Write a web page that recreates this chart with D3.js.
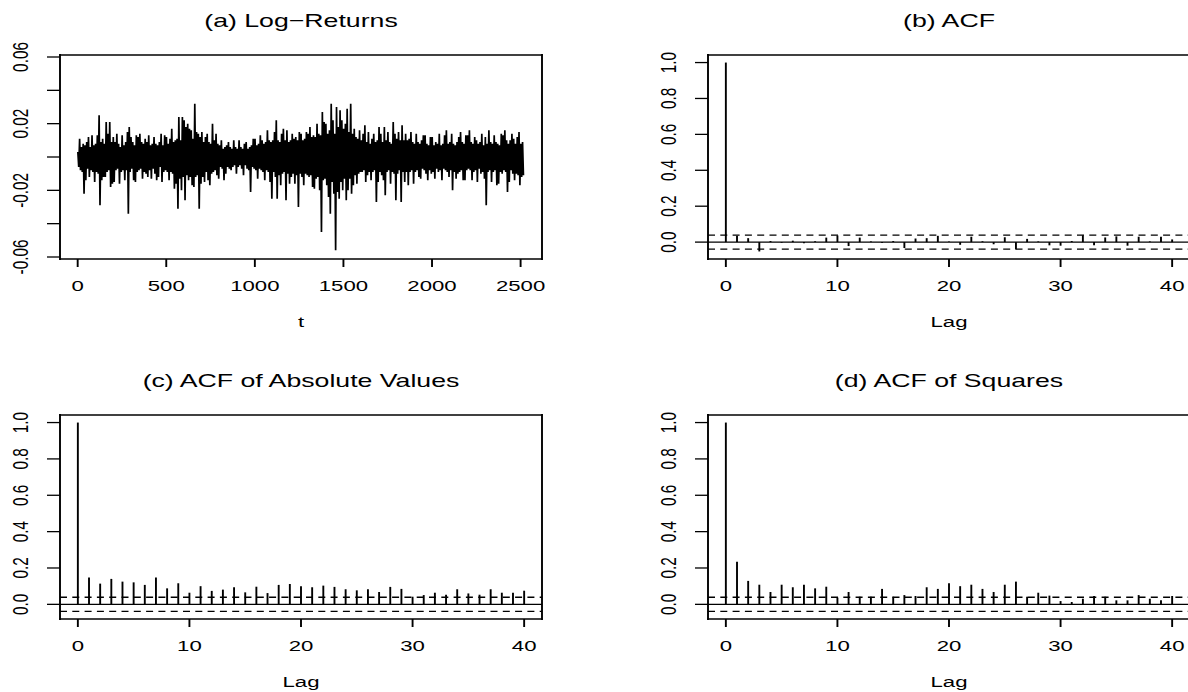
<!DOCTYPE html>
<html>
<head>
<meta charset="utf-8">
<script src="https://cdn.jsdelivr.net/npm/d3@7"></script>
<style>
  body { margin: 0; background: #fff; }
  text { font-family: "Liberation Sans", Arial, sans-serif; fill: #000; }
</style>
</head>
<body>
<script>
// ---- data ----
var nObs = 2520;          // length of the return series
var tStep = 5;            // one stored value per 5 trading days
// log-returns in thousandths (per mille), t = 1, 6, 11, ...
var logReturnsPermil = [
  3, -6, 11, -8, 6, -9, 8, -22, 7, -14, 9, -7, 12, -12, 6, -8, 13, -9, 7, -15,
  8, -9, 13, -10, 25, -29, 9, -14, 11, -12, 8, -12, 21, -9, 14, -8, 21, -18, 9, -16,
  12, -15, 9, -8, 14, -7, 8, -16, 6, -9, 13, -8, 7, -14, 9, -8, 15, -34, 18, -9,
  12, -7, 9, -14, 7, -15, 13, -9, 12, -8, 14, -7, 9, -13, 8, -9, 11, -10, 9, -12,
  13, -8, 7, -13, 8, -7, 12, -10, 8, -14, 7, -12, 9, -6, 14, -15, 7, -9, 13, -8,
  12, -9, 8, -14, 11, -9, 17, -10, 9, -19, 10, -16, 11, -31, 24, -13, 10, -20, 24, -12,
  22, -26, 18, -11, 20, -14, 17, -12, 16, -17, 11, -18, 32, -12, 15, -11, 14, -31, 12, -16,
  15, -12, 9, -15, 12, -9, 14, -14, 9, -17, 8, -10, 20, -9, 10, -8, 14, -11, 8, -13,
  7, -6, 10, -7, 5, -14, 6, -10, 7, -6, 9, -7, 6, -8, 5, -6, 10, -5, 6, -10,
  5, -6, 10, -5, 6, -7, 5, -11, 8, -5, 9, -7, 5, -8, 6, -21, 7, -6, 11, -7,
  11, -8, 7, -13, 8, -7, 13, -8, 10, -9, 8, -14, 9, -8, 16, -9, 10, -15, 9, -25,
  10, -9, 15, -12, 22, -25, 10, -11, 9, -17, 14, -10, 17, -9, 10, -26, 16, -10, 9, -16,
  10, -12, 14, -10, 11, -16, 12, -11, 10, -30, 15, -10, 14, -12, 10, -17, 11, -10, 15, -11,
  14, -12, 18, -11, 12, -18, 13, -19, 12, -13, 20, -12, 14, -20, 13, -45, 27, -14, 21, -13,
  20, -17, 14, -24, 16, -34, 32, -15, 22, -22, 14, -56, 30, -21, 18, -25, 28, -15, 22, -20,
  17, -13, 20, -26, 29, -20, 15, -13, 32, -22, 14, -17, 17, -11, 12, -16, 11, -10, 16, -9,
  10, -9, 14, -8, 19, -15, 9, -11, 15, -9, 8, -14, 11, -9, 14, -8, 9, -27, 10, -15,
  18, -9, 14, -11, 9, -14, 18, -23, 10, -9, 15, -8, 9, -16, 8, -9, 21, -10, 14, -26,
  11, -10, 15, -8, 10, -27, 19, -9, 10, -15, 14, -9, 10, -17, 11, -9, 15, -8, 9, -16,
  8, -9, 14, -8, 9, -12, 8, -13, 10, -7, 13, -8, 13, -10, 8, -14, 7, -8, 12, -10,
  12, -9, 7, -13, 9, -7, 8, -9, 14, -8, 7, -14, 8, -7, 13, -8, 16, -9, 8, -12,
  9, -8, 14, -20, 8, -9, 7, -13, 9, -10, 12, -9, 15, -8, 9, -14, 8, -14, 13, -8,
  13, -7, 16, -8, 9, -14, 8, -9, 12, -8, 10, -15, 8, -7, 9, -10, 14, -9, 7, -13,
  12, -29, 8, -9, 16, -8, 9, -15, 8, -9, 13, -8, 9, -17, 8, -16, 7, -9, 14, -10,
  13, -8, 16, -9, 10, -21, 8, -15, 10, -8, 14, -10, 11, -14, 8, -10, 12, -11, 15, -17,
  8, -12, 9, -11
];

var lags = d3.range(0, 41);
var acfReturns = [1, 0.035, 0.022, -0.052, 0.006, -0.004, 0.008, -0.006, 0.005, 0.025,
  0.037, -0.022, 0.025, 0.004, -0.005, 0.006, -0.033, 0.02, 0.022, 0.035,
  0.003, -0.015, 0.03, 0.005, -0.012, 0.027, -0.04, 0.018, 0.004, -0.018,
  -0.02, 0.006, 0.038, -0.018, 0.026, 0.032, -0.02, 0.03, 0.004, 0.03, 0.015];
var acfAbs = [1, 0.147, 0.114, 0.14, 0.125, 0.121, 0.107, 0.147, 0.088, 0.116,
  0.064, 0.1, 0.074, 0.081, 0.094, 0.066, 0.097, 0.062, 0.107, 0.112,
  0.1, 0.094, 0.103, 0.096, 0.083, 0.077, 0.083, 0.068, 0.096, 0.085,
  0.042, 0.051, 0.064, 0.053, 0.083, 0.06, 0.053, 0.083, 0.064, 0.064, 0.075];
var acfSquares = [1, 0.235, 0.129, 0.108, 0.068, 0.108, 0.094, 0.108, 0.088, 0.097,
  0.037, 0.068, 0.042, 0.042, 0.085, 0.042, 0.051, 0.046, 0.094, 0.085,
  0.116, 0.1, 0.108, 0.085, 0.068, 0.108, 0.125, 0.042, 0.064, 0.048,
  0.018, 0.013, 0.031, 0.046, 0.042, 0.022, 0.022, 0.051, 0.031, 0.022, 0.046];

var xTicksTime = [0, 500, 1000, 1500, 2000, 2500];
var yTicksReturns = [-0.06, -0.04, -0.02, 0, 0.02, 0.04, 0.06];
var yLabelsReturns = [-0.06, -0.02, 0.02, 0.06];
var xTicksLag = [0, 10, 20, 30, 40];
var yTicksAcf = [0, 0.2, 0.4, 0.6, 0.8, 1.0];
var titles = ["(a) Log\u2212Returns", "(b) ACF", "(c) ACF of Absolute Values", "(d) ACF of Squares"];
var xLabels = ["t", "Lag", "Lag", "Lag"];

// ---- layout ----
var W = 1188, H = 692;
var boxW = 482, boxH = 204;
var stretch = 1.45;   // glyphs in the picture are wider than tall
var fontSize = 15.3, titleSize = 18.4;
var hLine = 1.3, vLine = 1.9;

var fmtHyphen = d3.formatLocale({ decimal: ".", thousands: "", grouping: [3], currency: ["", ""], minus: "-" });

var svg = d3.select("body").append("svg")
  .attr("width", W).attr("height", H)
  .style("display", "block");

svg.append("rect").attr("width", W).attr("height", H).attr("fill", "#fff");

// R style 4% padding around the data range
function padded(lo, hi) {
  var d = (hi - lo) * 0.04;
  return [lo - d, hi + d];
}

function frame(id, left, top, x, y, xTicks, yTicks, yLabels, fmtX, fmtY, title, xlab) {
  var g = svg.append("g").attr("transform", "translate(" + left + "," + top + ")");

  g.append("clipPath").attr("id", "clip" + id)
    .append("rect").attr("width", boxW).attr("height", boxH);

  // box
  var sides = [
    [0, 0, boxW, 0, hLine], [0, boxH, boxW, boxH, hLine],
    [0, 0, 0, boxH, vLine], [boxW, 0, boxW, boxH, vLine]
  ];
  g.selectAll(".side").data(sides).enter().append("line")
    .attr("x1", d => d[0]).attr("y1", d => d[1])
    .attr("x2", d => d[2]).attr("y2", d => d[3])
    .attr("stroke", "#000").attr("stroke-width", d => d[4])
    .attr("stroke-linecap", "square");

  // x axis ticks and labels
  g.selectAll(".xtick").data(xTicks).enter().append("line")
    .attr("x1", d => x(d)).attr("x2", d => x(d))
    .attr("y1", boxH).attr("y2", boxH + 8)
    .attr("stroke", "#000").attr("stroke-width", vLine);
  g.selectAll(".xlab").data(xTicks).enter().append("text")
    .attr("transform", d => "translate(" + x(d) + "," + (boxH + 32) + ") scale(" + stretch + ",1)")
    .attr("text-anchor", "middle")
    .style("font-size", fontSize + "px")
    .text(fmtX);

  // y axis ticks and labels (rotated, as in base R)
  g.selectAll(".ytick").data(yTicks).enter().append("line")
    .attr("x1", -13).attr("x2", 0)
    .attr("y1", d => y(d)).attr("y2", d => y(d))
    .attr("stroke", "#000").attr("stroke-width", hLine);
  g.selectAll(".ylab").data(yLabels).enter().append("text")
    .attr("transform", d => "translate(-31.7," + y(d) + ") scale(" + stretch + ",1) rotate(-90)")
    .attr("text-anchor", "middle")
    .style("font-size", fontSize + "px")
    .text(fmtY);

  // titles
  g.append("text")
    .attr("transform", "translate(" + boxW / 2 + "," + (-28) + ") scale(" + stretch + ",1)")
    .attr("text-anchor", "middle")
    .style("font-size", titleSize + "px")
    .text(title);
  g.append("text")
    .attr("transform", "translate(" + boxW / 2 + "," + (boxH + 68) + ") scale(" + stretch + ",1)")
    .attr("text-anchor", "middle")
    .style("font-size", fontSize + "px")
    .text(xlab);

  return g.append("g").attr("clip-path", "url(#clip" + id + ")");
}

// ---- (a) log-returns ----
(function () {
  var x = d3.scaleLinear().domain(padded(1, nObs)).range([0, boxW]);
  var y = d3.scaleLinear().domain([-0.0612, 0.0612]).range([boxH, 0]);
  var plot = frame("a", 60, 55, x, y, xTicksTime, yTicksReturns, yLabelsReturns,
    d3.format("d"), fmtHyphen.format(".2f"), titles[0], xLabels[0]);

  var line = d3.line()
    .x((d, i) => x(1 + i * tStep))
    .y(d => y(d / 1000));
  plot.append("path")
    .datum(logReturnsPermil)
    .attr("d", line)
    .attr("fill", "none")
    .attr("stroke", "#000")
    .attr("stroke-width", 1.7)
    .attr("stroke-linejoin", "miter");
})();

// ---- ACF panels ----
function acfPanel(id, left, top, values, title) {
  var ci = 1.96 / Math.sqrt(nObs);
  var lo = Math.min(d3.min(values), -ci);
  var x = d3.scaleLinear().domain(padded(0, 40)).range([0, boxW]);
  var y = d3.scaleLinear().domain(padded(lo, 1)).range([boxH, 0]);
  var plot = frame(id, left, top, x, y, xTicksLag, yTicksAcf, yTicksAcf,
    d3.format("d"), d3.format(".1f"), title, "Lag");

  // spikes
  plot.selectAll(".spike").data(values).enter().append("line")
    .attr("x1", (d, i) => x(lags[i])).attr("x2", (d, i) => x(lags[i]))
    .attr("y1", y(0)).attr("y2", d => y(d))
    .attr("stroke", "#000").attr("stroke-width", vLine);

  // zero line
  plot.append("line")
    .attr("x1", 0).attr("x2", boxW)
    .attr("y1", y(0)).attr("y2", y(0))
    .attr("stroke", "#000").attr("stroke-width", hLine);

  // confidence bounds
  plot.selectAll(".ci").data([ci, -ci]).enter().append("line")
    .attr("x1", 0).attr("x2", boxW)
    .attr("y1", d => y(d)).attr("y2", d => y(d))
    .attr("stroke", "#000").attr("stroke-width", hLine)
    .attr("stroke-dasharray", "7,5.3");
}

acfPanel("b", 708, 55, acfReturns, titles[1]);
acfPanel("c", 60, 415, acfAbs, titles[2]);
acfPanel("d", 708, 415, acfSquares, titles[3]);
</script>
</body>
</html>
